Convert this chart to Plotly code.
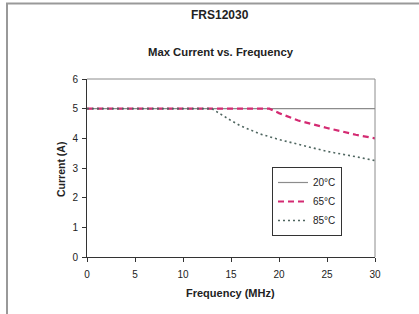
import plotly.graph_objects as go

freq_20 = [0, 30]
cur_20 = [5, 5]
freq_65 = [0, 19, 20, 22, 25, 28, 30]
cur_65 = [5, 5, 4.85, 4.6, 4.35, 4.12, 4.0]
freq_85 = [0, 13, 15, 16, 18, 20, 22, 25, 28, 30]
cur_85 = [5, 5, 4.6, 4.42, 4.15, 3.96, 3.8, 3.56, 3.38, 3.25]
x_ticks = [0, 5, 10, 15, 20, 25, 30]
y_ticks = [0, 1, 2, 3, 4, 5, 6]

L, R, T, B = 87, 44, 79, 57
W, H = 419, 314
pw, ph = W - L - R, H - T - B


def px(x):
    return (x - L) / pw


def py(y):
    return (H - B - y) / ph


fig = go.Figure()
fig.add_trace(go.Scatter(x=freq_20, y=cur_20, mode="lines", name="20°C",
                         line=dict(color="#8c8c8c", width=1.2)))
fig.add_trace(go.Scatter(x=freq_65, y=cur_65, mode="lines", name="65°C",
                         line=dict(color="#d42a72", width=2.2, dash="6px,4px")))
fig.add_trace(go.Scatter(x=freq_85, y=cur_85, mode="lines", name="85°C",
                         line=dict(color="#4f6660", width=1.6, dash="2px,3px")))

font = "Arial, Liberation Sans, sans-serif"
fig.update_layout(
    width=W, height=H,
    margin=dict(l=L, r=R, t=T, b=B, autoexpand=False),
    paper_bgcolor="white", plot_bgcolor="white",
    font=dict(family=font, size=10, color="#222"),
    showlegend=True,
    legend=dict(x=px(272), y=py(167), xanchor="left", yanchor="top",
                bordercolor="#333", borderwidth=1, bgcolor="white",
                font=dict(size=10, color="#222"), itemwidth=30,
                tracegroupgap=0),
    xaxis=dict(range=[0, 30], tickvals=x_ticks, showgrid=False, zeroline=False,
               showline=True, linecolor="#333", linewidth=1, automargin=False,
               ticks="outside", ticklen=4, tickcolor="#333", ticklabelstandoff=4,
               tickfont=dict(size=10, color="#222")),
    yaxis=dict(range=[0, 6], tickvals=y_ticks, showgrid=False, zeroline=False,
               showline=True, linecolor="#333", linewidth=1, automargin=False,
               ticks="outside", ticklen=4, tickcolor="#333", ticklabelstandoff=2,
               tickfont=dict(size=10, color="#222")),
    annotations=[
        dict(text="<b>FRS12030</b>", x=px(220), y=py(15), xanchor="center", yanchor="middle",
             xref="paper", yref="paper", showarrow=False,
             font=dict(size=12, color="#222")),
        dict(text="<b>Max Current vs. Frequency</b>", x=px(221), y=py(52),
             xanchor="center", yanchor="middle",
             xref="paper", yref="paper", showarrow=False,
             font=dict(size=11.3, color="#222")),
        dict(text="<b>Frequency (MHz)</b>", x=px(230), y=py(293),
             xanchor="center", yanchor="middle",
             xref="paper", yref="paper", showarrow=False,
             font=dict(size=11, color="#222")),
        dict(text="<b>Current (A)</b>", x=px(61), y=py(170), textangle=-90,
             xanchor="center", yanchor="middle",
             xref="paper", yref="paper", showarrow=False,
             font=dict(size=10.5, color="#222")),
    ],
    shapes=[
        dict(type="line", xref="paper", yref="paper", x0=0, x1=1, y0=1, y1=1,
             line=dict(color="#8c8c8c", width=1)),
        dict(type="line", xref="paper", yref="paper", x0=1, x1=1, y0=0, y1=1,
             line=dict(color="#8c8c8c", width=1)),
        dict(type="rect", xref="paper", yref="paper",
             x0=px(7), x1=1.6, y0=-1, y1=py(3.5),
             line=dict(color="#999", width=2), layer="below"),
    ],
)
fig.write_html("out.html", config={"displayModeBar": False},
               post_script="document.body.style.margin='0';")
